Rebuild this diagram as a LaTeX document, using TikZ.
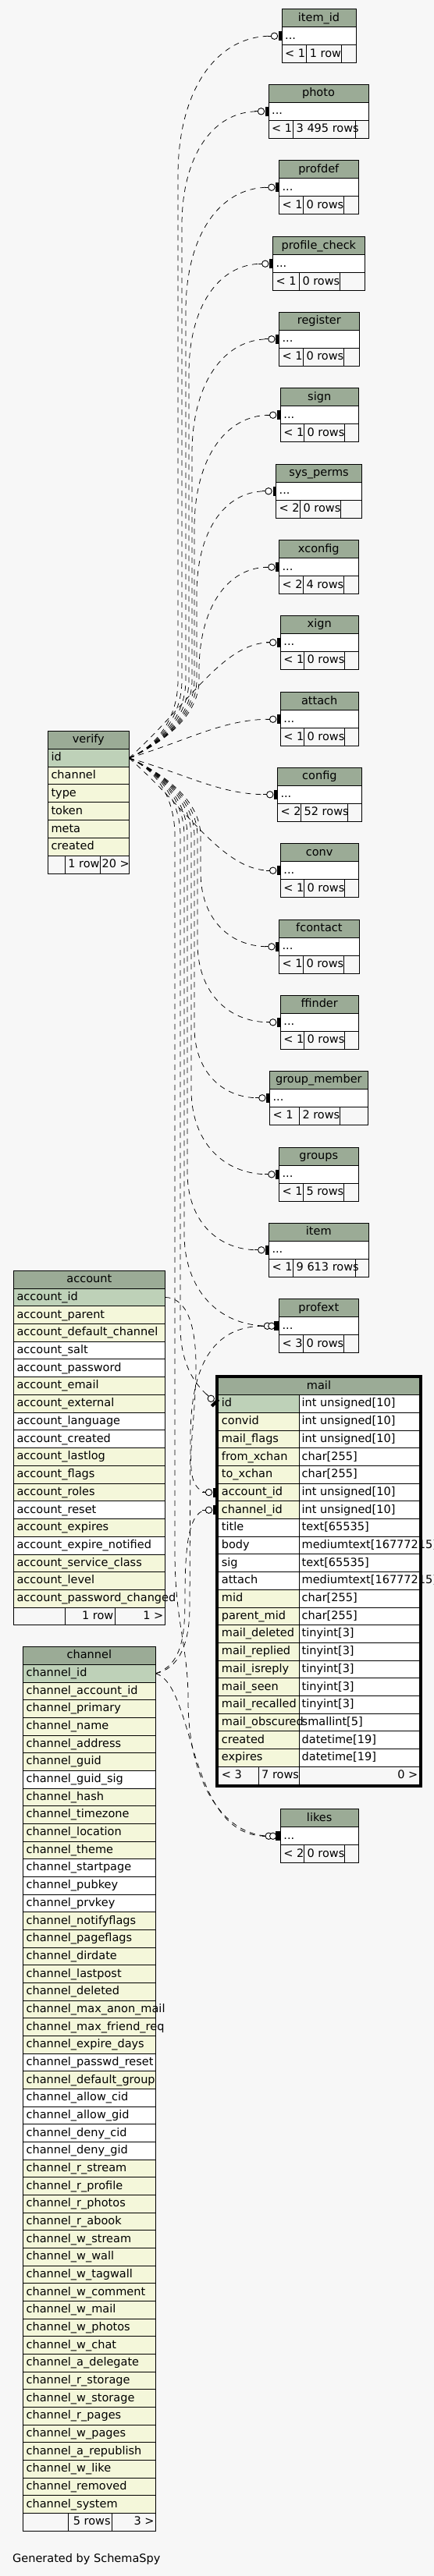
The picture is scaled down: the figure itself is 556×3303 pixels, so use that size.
\documentclass[tikz,border=0pt]{standalone}
\usepackage{fontspec}
\setmainfont{DejaVu Sans}
\definecolor{bgc}{HTML}{F7F7F7}
\definecolor{hdr}{HTML}{9BAB96}
\definecolor{colP}{HTML}{BED1B8}
\definecolor{colY}{HTML}{F4F7DA}
\definecolor{colW}{HTML}{FFFFFF}
\tikzset{
  tb/.style={draw=black,line width=1pt},
  txt/.style={inner sep=0pt,anchor=base west},
  fk/.style={draw=black,line width=0.75pt,dash pattern=on 7pt off 6pt},
  mk/.pic={\draw[line width=0.9pt] (-18,0) -- (-13.7,0);
           \fill[black] (-4,-6) rectangle (0,6);
           \draw[line width=0.9pt,fill=white] (-9.5,0) circle[radius=4.2];},
  mkd/.pic={\draw[line width=0.9pt] (-23,0) -- (-19.2,0);
           \fill[black] (-6,-6) rectangle (0,6);
           \draw[line width=0.9pt,fill=white] (-15,0) circle[radius=4.2];
           \draw[line width=0.9pt,fill=white] (-9.5,0) circle[radius=4.2];},
}
% small table: name, x1, x2, top, d1, d2, footer1, footer2
\newcommand\smalltab[8]{%
  \pgfmathsetmacro\ta{#4+23}%
  \pgfmathsetmacro\tb{#4+46}%
  \pgfmathsetmacro\tc{#4+69}%
  \pgfmathsetmacro\xm{(#2+#3)/2}%
  \pgfmathsetmacro\cy{#4+34.5}%
  \fill[hdr] (#2,#4) rectangle (#3,\ta);
  \fill[white] (#2,\ta) rectangle (#3,\tb);
  \node[txt,anchor=base] (#1-h) at (\xm,#4+15.5) {#1};
  \node[txt] (#1-r) at (#2+4,\ta+15.3) {...};
  \node[txt] (#1-f1) at (#2+4,\tb+15.5) {#7};
  \node[txt] (#1-f2) at (#5+4,\tb+15.5) {#8};
  \draw[tb] (#2,#4) rectangle (#3,\tc) (#2,\ta) -- (#3,\ta) (#2,\tb) -- (#3,\tb)
            (#5,\tb) -- (#5,\tc) (#6,\tb) -- (#6,\tc);
  \coordinate (#1-in) at (#2-13.7,\cy);
  \coordinate (#1-in2) at (#2-19.2,\cy);
}
% big table: name, x1, x2, top, row height, rows
\newcommand\bigtab[6]{%
  \pgfmathsetmacro\hb{#4+#5}%
  \pgfmathsetmacro\xm{(#2+#3)/2}%
  \pgfmathsetmacro\tyb{#4+0.67*#5}%
  \fill[hdr] (#2,#4) rectangle (#3,\hb);
  \node[txt,anchor=base] (#1-h) at (\xm,\tyb) {#1};
  \foreach \nm/\cl [count=\ri] in {#6} {
    \pgfmathsetmacro\yt{#4+\ri*#5}%
    \pgfmathsetmacro\yb{#4+(\ri+1)*#5}%
    \pgfmathsetmacro\ty{\yt+0.67*#5}%
    \fill[fill=col\cl] (#2,\yt) rectangle (#3,\yb);
    \draw[tb] (#2,\yt) -- (#3,\yt);
    \node[txt] (#1-\ri) at (#2+4,\ty) {\nm};
  }
}
% verify edge, far: target, xe, cy, trunk x
\newcommand\vfar[4]{%
  \pgfmathsetmacro\vdy{#3-972}%
  \pgfmathsetmacro\sg{sign(\vdy)}%
  \pgfmathsetmacro\ady{abs(\vdy)}%
  \pgfmathsetmacro\fac{1.3-0.2*(\sg)}%
  \pgfmathsetmacro\Rv{min(\fac*(#2-#4),\ady-110)}%
  \pgfmathsetmacro\ya{972+15*(\sg)}%
  \pgfmathsetmacro\yb{972+50*(\sg)}%
  \pgfmathsetmacro\yc{972+100*(\sg)}%
  \pgfmathsetmacro\yd{#3-(\sg)*\Rv}%
  \pgfmathsetmacro\ye{#3-0.4*(\sg)*\Rv}%
  \pgfmathsetmacro\xf{#4+0.4*(#2-#4)}%
  \draw[fk] (verify-o) .. controls (200,\ya) and (#4,\yb) .. (#4,\yc) -- (#4,\yd)
     .. controls (#4,\ye) and (\xf,#3) .. (#1);
}
% verify edge, near: target, xe, cy
\newcommand\vnear[3]{%
  \pgfmathsetmacro\ya{972+0.45*(#3-972)}%
  \pgfmathsetmacro\xb{#2-60}%
  \draw[fk] (verify-o) .. controls (240,\ya) and (\xb,#3) .. (#1);
}
\begin{document}
\catcode`\_=12
\begin{tikzpicture}[x=1pt,y=-1pt,font=\fontsize{14.5}{16}\selectfont]
\useasboundingbox (0,0) rectangle (556,3303);
\fill[bgc] (0,0) rectangle (556,3303);

% ---------- small tables ----------
\smalltab{item_id}{361}{456}{11.7}{392.6}{437.6}{< 1}{1 row}
\smalltab{photo}{344}{472}{108.3}{375.5}{455.3}{< 1}{3 495 rows}
\smalltab{profdef}{357.4}{459.2}{205.7}{388.3}{440.4}{< 1}{0 rows}
\smalltab{profile_check}{349.3}{467.4}{303.7}{383.3}{435.5}{< 1}{0 rows}
\smalltab{register}{357.4}{460.3}{400.3}{388.3}{440.4}{< 1}{0 rows}
\smalltab{sign}{359.2}{459.2}{497.7}{389.4}{441.5}{< 1}{0 rows}
\smalltab{sys_perms}{353.5}{463.5}{595.3}{384.4}{436.5}{< 2}{0 rows}
\smalltab{xconfig}{357.4}{459.2}{692.7}{388.3}{440.4}{< 2}{4 rows}
\smalltab{xign}{359.2}{459.2}{789.3}{389.4}{441.5}{< 1}{0 rows}
\smalltab{attach}{359.2}{459.2}{887.7}{389.4}{441.5}{< 1}{0 rows}
\smalltab{config}{355.3}{463.5}{984.3}{385.5}{445.4}{< 2}{52 rows}
\smalltab{conv}{359.2}{459.2}{1081.7}{389.4}{441.5}{< 1}{0 rows}
\smalltab{fcontact}{357.4}{460.3}{1179.3}{388.3}{440.4}{< 1}{0 rows}
\smalltab{ffinder}{359.2}{459.2}{1276.3}{389.4}{441.5}{< 1}{0 rows}
\smalltab{group_member}{345.4}{471.3}{1373.3}{383.3}{435.5}{< 1}{2 rows}
\smalltab{groups}{357.4}{459.2}{1471.3}{388.3}{440.4}{< 1}{5 rows}
\smalltab{item}{344.3}{472.3}{1568.3}{375.5}{455.3}{< 1}{9 613 rows}
\smalltab{profext}{357.4}{459.2}{1665.7}{388.3}{440.4}{< 3}{0 rows}
\smalltab{likes}{359.2}{459.2}{2319.7}{389.4}{441.5}{< 2}{0 rows}

% markers on small tables
\foreach \tn/\lx/\cy in {item_id/361/46.2, photo/344/142.8, profdef/357.4/240.2,
  profile_check/349.3/338.2, register/357.4/434.8, sign/359.2/532.2,
  sys_perms/353.5/629.8, xconfig/357.4/727.2, xign/359.2/823.8,
  attach/359.2/922.2, config/355.3/1018.8, conv/359.2/1116.2,
  fcontact/357.4/1213.8, ffinder/359.2/1310.8, group_member/345.4/1407.8,
  groups/357.4/1505.8, item/344.3/1602.8}
  {\pic at (\lx,\cy) {mk};}
\pic at (357.4,1700.2) {mkd};
\pic at (359.2,2354.2) {mkd};

% ---------- verify ----------
\bigtab{verify}{61.3}{165.2}{937.3}{22.875}{id/P,channel/Y,type/Y,token/Y,meta/Y,created/Y}
\draw[tb] (61.3,937.3) rectangle (165.2,1120.3) (61.3,1097.4) -- (165.2,1097.4)
  (83.7,1097.4) -- (83.7,1120.3) (128.4,1097.4) -- (128.4,1120.3);
\node[txt,anchor=base east] (verify-f2) at (127.8,1112.8) {1 row};
\node[txt,anchor=base east] (verify-f3) at (166,1112.8) {20 >};
\coordinate (verify-o) at (165.2,972);

% ---------- account ----------
\bigtab{account}{17.4}{211.3}{1629.3}{22.73}{account_id/P,account_parent/Y,account_default_channel/Y,account_salt/W,account_password/W,account_email/Y,account_external/Y,account_language/W,account_created/W,account_lastlog/Y,account_flags/Y,account_roles/Y,account_reset/W,account_expires/Y,account_expire_notified/W,account_service_class/Y,account_level/Y,account_password_changed/Y}
\draw[tb] (17.4,1629.3) rectangle (211.3,2083.9) (17.4,2061.2) -- (211.3,2061.2)
  (83.3,2061.2) -- (83.3,2083.9) (147.2,2061.2) -- (147.2,2083.9);
\node[txt,anchor=base east] (account-f2) at (145.5,2076.4) {1 row};
\node[txt,anchor=base east] (account-f3) at (209.5,2076.4) {1 >};
\coordinate (account-o) at (211.3,1663.4);

% ---------- channel ----------
\bigtab{channel}{29.4}{199.3}{2111.7}{22.672}{channel_id/P,channel_account_id/Y,channel_primary/Y,channel_name/Y,channel_address/Y,channel_guid/Y,channel_guid_sig/W,channel_hash/Y,channel_timezone/Y,channel_location/Y,channel_theme/Y,channel_startpage/W,channel_pubkey/W,channel_prvkey/W,channel_notifyflags/Y,channel_pageflags/Y,channel_dirdate/Y,channel_lastpost/Y,channel_deleted/Y,channel_max_anon_mail/Y,channel_max_friend_req/Y,channel_expire_days/Y,channel_passwd_reset/W,channel_default_group/Y,channel_allow_cid/W,channel_allow_gid/W,channel_deny_cid/W,channel_deny_gid/W,channel_r_stream/Y,channel_r_profile/Y,channel_r_photos/Y,channel_r_abook/Y,channel_w_stream/Y,channel_w_wall/Y,channel_w_tagwall/Y,channel_w_comment/Y,channel_w_mail/Y,channel_w_photos/Y,channel_w_chat/Y,channel_a_delegate/Y,channel_r_storage/Y,channel_w_storage/Y,channel_r_pages/Y,channel_w_pages/Y,channel_a_republish/Y,channel_w_like/Y,channel_removed/Y,channel_system/Y}
\draw[tb] (29.4,2111.7) rectangle (199.3,3245.3) (29.4,3222.6) -- (199.3,3222.6)
  (87.2,3222.6) -- (87.2,3245.3) (143.3,3222.6) -- (143.3,3245.3);
\node[txt,anchor=base east] (channel-f2) at (141.8,3237.8) {5 rows};
\node[txt,anchor=base east] (channel-f3) at (197.8,3237.8) {3 >};
\coordinate (channel-o) at (199.3,2145.7);

% ---------- mail ----------
\fill[hdr] (279.8,1766) rectangle (537.2,1788.7);
\node[txt,anchor=base] (mail-h) at (408.5,1781.2) {mail};
\foreach \nm/\typ/\cl [count=\ri] in {id/int unsigned[10]/P,convid/int unsigned[10]/Y,mail_flags/int unsigned[10]/Y,from_xchan/char[255]/Y,to_xchan/char[255]/Y,account_id/int unsigned[10]/Y,channel_id/int unsigned[10]/Y,title/text[65535]/W,body/mediumtext[16777215]/W,sig/text[65535]/W,attach/mediumtext[16777215]/W,mid/char[255]/Y,parent_mid/char[255]/Y,mail_deleted/tinyint[3]/Y,mail_replied/tinyint[3]/Y,mail_isreply/tinyint[3]/Y,mail_seen/tinyint[3]/Y,mail_recalled/tinyint[3]/Y,mail_obscured/smallint[5]/Y,created/datetime[19]/Y,expires/datetime[19]/Y} {
  \pgfmathsetmacro\yt{1766+\ri*22.696}
  \pgfmathsetmacro\yb{1766+(\ri+1)*22.696}
  \pgfmathsetmacro\ty{\yt+15.2}
  \fill[fill=col\cl] (279.8,\yt) rectangle (383.3,\yb);
  \fill[white] (383.3,\yt) rectangle (537.2,\yb);
  \draw[tb] (279.8,\yt) -- (537.2,\yt);
  \node[txt] (mail-n\ri) at (283.7,\ty) {\nm};
  \node[txt] (mail-t\ri) at (386.5,\ty) {\typ};
}
\draw[tb] (279.8,1766) rectangle (537.2,2288) (279.8,2265.3) -- (537.2,2265.3)
  (383.3,1788.7) -- (383.3,2288) (331.2,2265.3) -- (331.2,2288);
\node[txt] (mail-f1) at (283.7,2280.5) {< 3};
\node[txt] (mail-f2) at (335,2280.5) {7 rows};
\node[txt,anchor=base east] (mail-f3) at (535.5,2280.5) {0 >};
\draw[line width=2.4pt] (277.4,1764.5) rectangle (539.4,2290.5);
\coordinate (mailid-in) at (267.3,1790.3);
\coordinate (mailacc-in) at (263.3,1913.5);
\coordinate (mailch-in) at (263.3,1936.2);
\pic[rotate=-45] at (277,1800) {mk};
\pic at (277,1913.5) {mk};
\pic at (277,1936.2) {mk};

% ---------- connectors from verify.id ----------
\vfar{item_id-in}{347.3}{46.2}{228}
\vfar{photo-in}{330.3}{142.8}{233}
\vfar{profdef-in}{343.7}{240.2}{238}
\vfar{profile_check-in}{335.6}{338.2}{242}
\vfar{register-in}{343.7}{434.8}{246}
\vfar{sign-in}{345.5}{532.2}{249}
\vfar{sys_perms-in}{339.8}{629.8}{252}
\vfar{xconfig-in}{343.7}{727.2}{255}
\vnear{xign-in}{345.5}{823.8}
\vnear{attach-in}{345.5}{922.2}
\vnear{config-in}{341.6}{1018.8}
\vnear{conv-in}{345.5}{1116.2}
\vfar{fcontact-in}{343.7}{1213.8}{257}
\vfar{ffinder-in}{345.5}{1310.8}{253}
\vfar{group_member-in}{331.7}{1407.8}{249}
\vfar{groups-in}{343.7}{1505.8}{245}
\vfar{item-in}{330.6}{1602.8}{240}
\vfar{profext-in}{343.7}{1700.2}{236}
\draw[fk] (verify-o) .. controls (200,987) and (231,1022) .. (231,1072) -- (231,1700)
  .. controls (231,1752) and (252,1777) .. (mailid-in);
\draw[fk] (verify-o) .. controls (200,987) and (224,1022) .. (224,1072) -- (224,1990)
  .. controls (224,2080) and (241,2110) .. (241,2180)
  .. controls (241,2290) and (290,2354.2) .. (likes-in);

% ---------- connectors from channel.channel_id ----------
\draw[fk] (channel-o) .. controls (250,2160) and (240,2354.2) .. (likes-in2);
\draw[fk] (channel-o) .. controls (228,2140) and (243,2110) .. (243,2060) -- (244,1840)
  .. controls (245,1740) and (280,1700.2) .. (profext-in2);
\draw[fk] (channel-o) .. controls (232,2135) and (237,2100) .. (237,2050)
  .. controls (237,1990) and (240,1940) .. (mailch-in);

% ---------- connector from account.account_id ----------
\draw[fk] (account-o) .. controls (240,1664) and (252,1700) .. (251,1760)
  .. controls (249,1850) and (232,1905) .. (mailacc-in);

\node[txt] (credit) at (16,3285) {Generated by SchemaSpy};
\end{tikzpicture}
\end{document}
